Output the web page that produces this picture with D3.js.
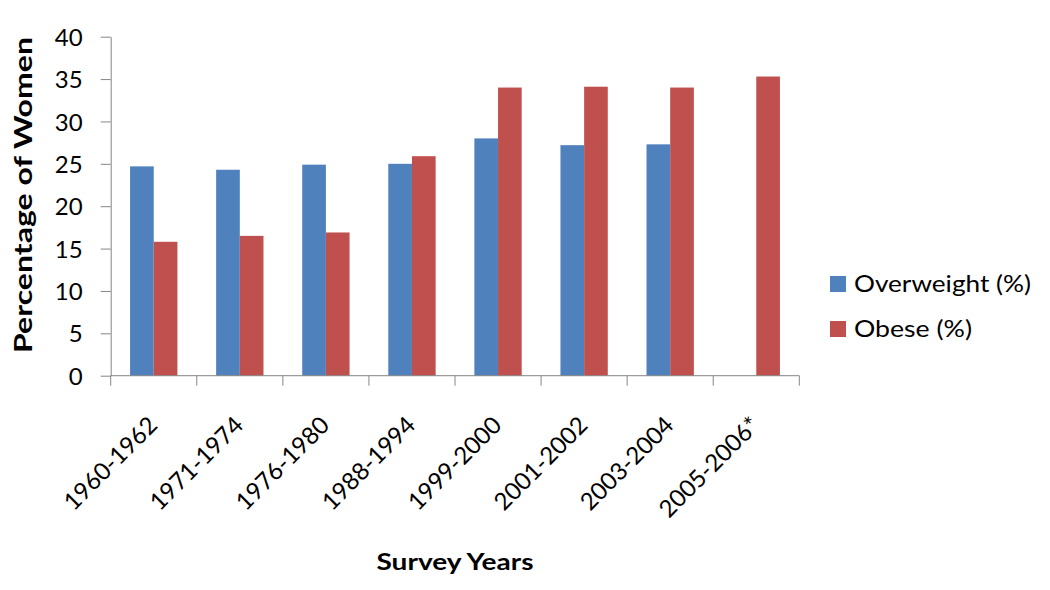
<!DOCTYPE html>
<html>
<head>
<meta charset="utf-8">
<script src="https://cdn.jsdelivr.net/npm/d3@7"></script>
<style>
  body { margin: 0; background: #fff; }
  text { font-family: Lato, "Open Sans", sans-serif; fill: #000; }
</style>
</head>
<body>
<div id="chart"></div>
<script>
// Survey periods and the two series (percent of women)
const periods = ['1960-1962', '1971-1974', '1976-1980', '1988-1994',
    '1999-2000', '2001-2002', '2003-2004', '2005-2006*'];
const seriesNames = ['Overweight (%)', 'Obese (%)'];
const overweight = [24.7, 24.3, 24.9, 25.0, 28.0, 27.2, 27.3, null];
const obese = [15.8, 16.5, 16.9, 25.9, 34.0, 34.1, 34.0, 35.3];
const yTicks = [0, 5, 10, 15, 20, 25, 30, 35, 40];
const colors = ['#4F81BD', '#C0504D'];

const width = 1050, height = 590;
const marginLeft = 110.7, marginRight = 250.7, marginTop = 36.7, marginBottom = 214.3;

const svg = d3.select("#chart").append("svg")
    .attr("width", width)
    .attr("height", height);

const x = d3.scaleBand()
    .domain(periods)
    .range([marginLeft, width - marginRight]);

const xSeries = d3.scaleBand()
    .domain(seriesNames)
    .range([x.bandwidth() * 0.225, x.bandwidth() * 0.775]);

const y = d3.scaleLinear()
    .domain([0, 40])
    .range([height - marginBottom, marginTop]);

const color = d3.scaleOrdinal().domain(seriesNames).range(colors);

// Bars
const rows = periods.map((p, i) => ({ period: p, values: [overweight[i], obese[i]] }));

const groups = svg.append("g")
    .selectAll("g")
    .data(rows)
    .enter().append("g")
    .attr("transform", d => `translate(${x(d.period)},0)`);

groups.selectAll("rect")
    .data(d => d.values.map((v, j) => ({ name: seriesNames[j], value: v })).filter(d => d.value != null))
    .enter().append("rect")
    .attr("x", d => xSeries(d.name))
    .attr("width", xSeries.bandwidth())
    .attr("y", d => y(d.value))
    .attr("height", d => y(0) - y(d.value))
    .attr("fill", d => color(d.name));

const axisColor = "#868686";

// Y axis
const yAxis = svg.append("g")
    .attr("transform", `translate(${marginLeft},0)`)
    .call(d3.axisLeft(y).tickValues(yTicks).tickSize(10).tickPadding(18).tickSizeOuter(0));
yAxis.select(".domain").attr("stroke", axisColor);
yAxis.selectAll(".tick line").attr("stroke", axisColor);
yAxis.selectAll(".tick text")
    .attr("font-family", "Lato, sans-serif")
    .attr("font-size", 24)
    .attr("dy", "0.36em")
    .attr("fill", "#000");

// X axis line and boundary ticks
const gx = svg.append("g");
gx.append("line")
    .attr("x1", x.range()[0]).attr("x2", x.range()[1])
    .attr("y1", y(0)).attr("y2", y(0))
    .attr("stroke", axisColor);
const bounds = periods.map(p => x(p)).concat([x.range()[1]]);
gx.selectAll(".bt")
    .data(bounds)
    .enter().append("line")
    .attr("class", "bt")
    .attr("x1", d => d).attr("x2", d => d)
    .attr("y1", y(0)).attr("y2", y(0) + 10)
    .attr("stroke", axisColor);

// Rotated category labels
gx.selectAll(".xl")
    .data(periods)
    .enter().append("text")
    .attr("class", "xl")
    .attr("text-anchor", "end")
    .attr("font-size", 24)
    .attr("transform", d => `translate(${x(d) + x.bandwidth() / 2 + 5},${y(0) + 51}) rotate(-45)`)
    .text(d => d);

// Axis titles
svg.append("text")
    .attr("text-anchor", "middle")
    .attr("font-weight", "bold")
    .attr("font-size", 24)
    .attr("textLength", 316)
    .attr("lengthAdjust", "spacingAndGlyphs")
    .attr("transform", "translate(32,195) rotate(-90)")
    .text("Percentage of Women");

svg.append("text")
    .attr("text-anchor", "middle")
    .attr("font-weight", "bold")
    .attr("font-size", 23)
    .attr("textLength", 157)
    .attr("lengthAdjust", "spacingAndGlyphs")
    .attr("x", (x.range()[0] + x.range()[1]) / 2)
    .attr("y", 570)
    .text("Survey Years");

// Legend
const legend = svg.append("g")
    .attr("transform", "translate(830,276)");
const items = legend.selectAll("g")
    .data(seriesNames)
    .enter().append("g")
    .attr("transform", (d, i) => `translate(0,${i * 45})`);
items.append("rect")
    .attr("width", 16).attr("height", 16)
    .attr("fill", d => color(d));
items.append("text")
    .attr("x", 24)
    .attr("y", 16)
    .attr("font-size", 24)
    .attr("textLength", (d, i) => i === 0 ? 177 : 118)
    .attr("lengthAdjust", "spacingAndGlyphs")
    .text(d => d);
</script>
</body>
</html>
